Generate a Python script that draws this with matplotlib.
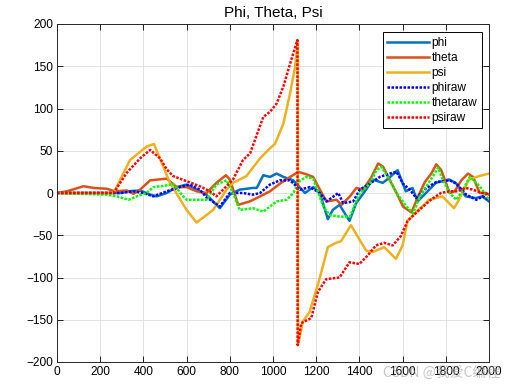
import matplotlib
matplotlib.use("Agg")
import matplotlib.pyplot as plt

plt.rcParams['font.family'] = ['Liberation Sans', 'DejaVu Sans']

phi_x = [0, 300, 323, 385, 431, 462, 508, 554, 600, 646, 692, 754, 800, 846, 907, 925, 955, 986, 1017, 1048, 1094, 1148, 1186, 1217, 1254, 1277, 1308, 1354, 1385, 1431, 1461, 1508, 1538, 1577, 1615, 1646, 1669, 1708, 1754, 1815, 1846, 1892, 1938, 1969, 2000]
phi_y = [0, 0, 2, 3, -2, -4, 0, 7, 10, 4, -2, -18, -2, 4, 6, 6, 21, 19, 23, 19, 15, 0, 7, 0, -31, -20, -14, -33, -12, 4, 16, 12, 18, 27, 2, 6, -10, 0, 12, 16, 12, -4, -6, -4, -10]

theta_x = [0, 46, 123, 169, 231, 269, 323, 354, 385, 431, 508, 554, 600, 646, 692, 738, 782, 800, 839, 892, 940, 986, 1032, 1079, 1117, 1156, 1186, 1217, 1248, 1294, 1317, 1356, 1386, 1417, 1456, 1487, 1510, 1541, 1572, 1602, 1641, 1672, 1703, 1733, 1756, 1779, 1818, 1841, 1872, 1903, 1926, 1957, 1988, 2000]
theta_y = [0, 2, 8, 6, 5, 2, 3, -1, 4, 15, 17, 7, 7, 2, 0, 12, 21, 16, -14, -10, -4, 2, 11, 19, 25, 22, 19, 4, -10, -8, -14, -4, 6, 4, 19, 35, 31, 15, 0, -16, -23, -4, 13, 23, 34, 27, 0, 2, 15, 23, 19, 0, 0, -2]

psi_x = [0, 262, 338, 415, 449, 523, 600, 646, 723, 785, 815, 877, 940, 986, 1009, 1048, 1079, 1102, 1115, 1116, 1138, 1169, 1215, 1254, 1292, 1315, 1361, 1400, 1431, 1461, 1515, 1569, 1600, 1623, 1661, 1723, 1784, 1815, 1838, 1861, 1907, 1954, 2000]
psi_y = [0, 0, 39, 55, 58, 12, -20, -35, -20, 4, 12, 20, 41, 53, 58, 82, 118, 149, 179, -180, -152, -141, -102, -64, -59, -57, -38, -55, -68, -70, -64, -78, -62, -33, -23, -8, -4, -12, -18, -8, 16, 20, 23]

phiraw_x = [0, 292, 354, 400, 446, 508, 569, 615, 661, 692, 754, 800, 861, 907, 940, 986, 1032, 1079, 1125, 1171, 1217, 1248, 1302, 1325, 1371, 1402, 1448, 1494, 1541, 1572, 1602, 1633, 1664, 1710, 1756, 1818, 1849, 1895, 1941, 1972, 2000]
phiraw_y = [0, 0, 2, 0, -4, 2, 7, 10, 4, -5, -16, 0, 0, -2, 0, 10, 15, 15, 4, 7, 0, -10, 0, -12, -10, 4, 11, 19, 23, 25, 11, 4, -6, 6, 13, 15, 11, -2, -8, -4, -8]

thetaraw_x = [0, 231, 277, 331, 369, 415, 446, 508, 538, 577, 600, 646, 692, 738, 785, 815, 846, 907, 955, 1017, 1063, 1094, 1125, 1156, 1186, 1233, 1263, 1309, 1356, 1402, 1448, 1479, 1502, 1541, 1572, 1618, 1649, 1680, 1710, 1741, 1764, 1787, 1818, 1849, 1880, 1911, 1957, 2000]
thetaraw_y = [0, -2, -4, -8, -4, 0, 7, 9, 11, -2, -8, -8, -8, 10, 15, 0, -20, -18, -22, -10, -8, 0, 15, 19, 17, -16, -26, -28, -28, 0, 11, 27, 31, 15, 0, -16, -24, -4, 8, 20, 30, 15, 0, -8, 4, 19, 8, -8]

psiraw_x = [0, 262, 323, 385, 431, 477, 508, 538, 600, 661, 708, 738, 769, 815, 861, 894, 955, 986, 1017, 1048, 1079, 1113, 1114, 1131, 1177, 1208, 1246, 1308, 1354, 1400, 1438, 1477, 1515, 1554, 1592, 1623, 1677, 1731, 1777, 1815, 1854, 1892, 1923, 1969, 2000]
psiraw_y = [0, 0, 24, 41, 51, 41, 28, 20, 14, 8, 2, -4, 4, 16, 39, 47, 90, 96, 106, 126, 153, 181, -180, -154, -148, -117, -102, -100, -82, -84, -74, -62, -59, -62, -51, -33, -20, -8, 0, 2, 2, 6, 4, 0, -2]

labels = ['phi', 'theta', 'psi', 'phiraw', 'thetaraw', 'psiraw']
xticks = list(range(0, 2001, 200))
yticks = list(range(-200, 201, 50))

fig = plt.figure(figsize=(5.18, 3.90), dpi=100)
ax = fig.add_axes([57/518, 1-362/390, 432/518, 338/390])

lw = 1.8
dot = (0, (1, 0.6))
ax.plot(phi_x, phi_y, color='#0072BD', lw=lw, label=labels[0])
ax.plot(theta_x, theta_y, color='#D95319', lw=lw, label=labels[1])
ax.plot(psi_x, psi_y, color='#EDB120', lw=lw, label=labels[2])
ax.plot(phiraw_x, phiraw_y, color='#0000FF', lw=lw, ls=dot, label=labels[3])
ax.plot(thetaraw_x, thetaraw_y, color='#00FF00', lw=lw, ls=dot, label=labels[4])
ax.plot(psiraw_x, psiraw_y, color='#FF0000', lw=lw, ls=dot, label=labels[5])

ax.set_xlim(0, 2000)
ax.set_ylim(-200, 200)
ax.set_xticks(xticks)
ax.set_yticks(yticks)
ax.tick_params(direction='in', length=4, width=0.6, top=True, right=True, labelsize=8.6, pad=3)
ax.grid(True, color='#DCDCDC', lw=0.6)
ax.set_axisbelow(True)
for s in ax.spines.values():
    s.set_linewidth(0.7)
    s.set_color('#262626')
ax.set_title('Phi, Theta, Psi', fontsize=11, pad=5)

leg = ax.legend(loc='upper right', bbox_to_anchor=(1 - 7/432, 1 - 8/338), fontsize=8.6,
                frameon=True, fancybox=False, edgecolor='black', framealpha=1,
                handlelength=3.5, handletextpad=0.2, labelspacing=0.25, borderpad=0.4,
                borderaxespad=0)
leg.get_frame().set_linewidth(0.7)

fig.text(0.965, 0.025, 'CSDN @我爱C编程', ha='right', va='bottom', fontsize=10,
         color='#A0A0A0', alpha=0.6, family=['Noto Sans CJK SC', 'DejaVu Sans'])

fig.savefig('out.png', dpi=100)
